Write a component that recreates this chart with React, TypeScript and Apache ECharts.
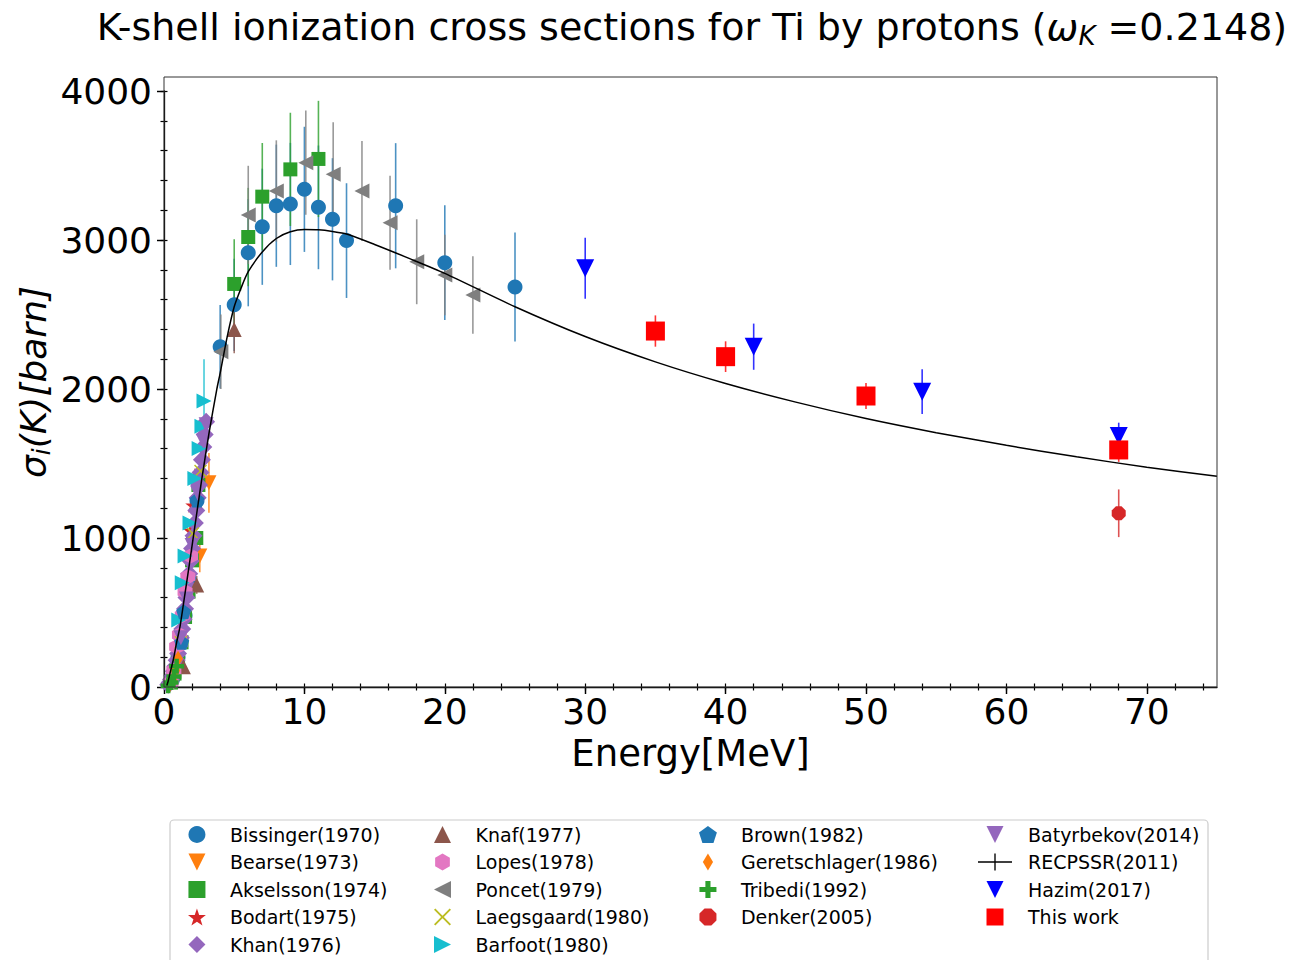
import React, { useEffect, useRef } from "react";
import * as echarts from "echarts";

type Pt = [number, number, number];

// ---------- data (energy MeV, sigma barn, error barn) ----------
const bissinger: Pt[] = [
  [0.6, 50, 0], [1.0, 200, 0], [1.5, 480, 0], [1.8, 720, 0], [2.1, 1000, 0], [2.35, 1250, 0],
  [4.0, 2284, 280], [5.0, 2565, 310], [6.0, 2915, 360], [7.0, 3089, 390], [8.0, 3230, 410],
  [9.0, 3242, 410], [10.0, 3340, 420], [11.0, 3219, 415], [12.0, 3139, 410], [13.0, 2996, 385],
  [16.5, 3230, 420], [20.0, 2848, 385], [25.0, 2685, 366],
];
const bearse: Pt[] = [[2.55, 880, 110], [3.2, 1370, 200]];
const akselsson: Pt[] = [
  [0.5, 30, 0], [0.75, 90, 0], [1.0, 170, 0], [1.25, 300, 0], [1.5, 470, 0], [1.75, 640, 0],
  [2.0, 850, 0], [2.3, 1000, 0], [2.45, 1356, 0],
  [5.0, 2705, 300], [6.0, 3020, 330], [7.0, 3291, 360], [9.0, 3474, 380], [11.0, 3544, 390],
];
const bodart: Pt[] = [[1.9, 1050, 0], [2.05, 1220, 0], [2.2, 1420, 0]];
const khan: Pt[] = [
  [0.3, 15, 0], [0.4, 30, 0], [0.5, 50, 0], [0.6, 75, 0], [0.7, 105, 0], [0.8, 140, 0],
  [0.9, 180, 0], [1.0, 225, 0], [1.1, 275, 0], [1.2, 330, 0], [1.3, 390, 0], [1.4, 455, 0],
  [1.5, 525, 0], [1.6, 600, 0], [1.7, 680, 0], [1.8, 760, 0], [1.9, 845, 0], [2.0, 930, 0],
  [2.1, 1015, 0], [2.2, 1100, 0], [2.3, 1185, 0], [2.4, 1270, 0], [2.5, 1355, 0], [2.6, 1440, 0],
  [2.7, 1525, 0], [2.8, 1610, 0], [2.9, 1695, 0], [3.0, 1780, 0],
];
const knaf: Pt[] = [[1.38, 136, 20], [2.33, 685, 60], [5.0, 2400, 160]];
const lopes: Pt[] = [
  [0.5, 30, 0], [0.7, 110, 0], [0.9, 270, 0], [1.1, 350, 0], [1.3, 480, 0], [1.5, 640, 0],
  [1.7, 740, 0], [1.9, 880, 0],
];
const poncet: Pt[] = [
  [4.05, 2250, 250], [6.0, 3168, 330], [8.0, 3329, 340], [10.1, 3519, 350], [12.05, 3441, 350],
  [14.1, 3329, 335], [16.1, 3116, 315], [18.0, 2854, 285], [20.0, 2765, 270], [22.0, 2631, 260],
];
const laegsgaard: Pt[] = [[1.2, 300, 0], [2.05, 1030, 0], [2.6, 1450, 0]];
const barfoot: Pt[] = [
  [1.05, 450, 0], [1.3, 700, 0], [1.5, 880, 0], [1.85, 1100, 0], [2.2, 1400, 0], [2.5, 1600, 0],
  [2.7, 1750, 0], [2.85, 1920, 280],
];
const brown: Pt[] = [[1.26, 300, 0], [1.4, 505, 0], [2.35, 1255, 0]];
const geretschlager: Pt[] = [[0.4, 15, 0], [0.6, 45, 0], [0.8, 110, 0], [1.0, 190, 0]];
const tribedi: Pt[] = [[0.3, 8, 0], [0.5, 30, 0], [0.7, 70, 0], [0.9, 140, 0]];
const denker: Pt[] = [[68, 1166, 160]];
const batyrbekov: Pt[] = [
  [1.2, 330, 0], [1.6, 590, 0], [2.0, 950, 0], [2.4, 1300, 0], [2.8, 1650, 0], [3.0, 1760, 0],
];
const recpssr: [number, number][] = [
  [0.2, 10], [0.3, 40], [0.43, 94], [0.66, 181], [0.9, 300], [1.14, 405], [1.5, 630],
  [1.85, 852], [2.2, 1080], [2.68, 1389], [3.2, 1700], [3.75, 1993], [4.0, 2107], [4.5, 2350],
  [5.0, 2552], [5.5, 2680], [6.0, 2787], [7.0, 2920], [8.0, 3010], [9.0, 3055], [10.0, 3070],
  [11.0, 3068], [12.0, 3057], [13.0, 3040], [15.0, 2970], [17.5, 2875], [20.0, 2776],
  [25.0, 2552], [30.0, 2352], [35.0, 2182], [40.0, 2037], [45.0, 1912], [50.0, 1802],
  [55.0, 1707], [60.0, 1622], [65.0, 1545], [70.0, 1475], [75.0, 1415],
];
const hazim: Pt[] = [[30, 2810, 205], [42, 2284, 155], [54, 1982, 150], [68, 1684, 90]];
const thisWork: Pt[] = [[35, 2389, 105], [40, 2217, 103], [50, 1953, 88], [68, 1591, 80]];

const xMajorTicks = [0, 10, 20, 30, 40, 50, 60, 70];
const xMinorTicks = [0, 2, 4, 6, 8, 10, 12, 14, 16, 18, 20, 22, 24, 26, 28, 30, 32, 34, 36, 38, 40, 42, 44, 46, 48, 50, 52, 54, 56, 58, 60, 62, 64, 66, 68, 70, 72, 74];
const yMajorTicks = [0, 1000, 2000, 3000, 4000];
const yMinorTicks = [0, 200, 400, 600, 800, 1000, 1200, 1400, 1600, 1800, 2000, 2200, 2400, 2600, 2800, 3000, 3200, 3400, 3600, 3800, 4000];

// ---------- marker shapes ----------
const SQUARE = "path://M0,0H1V1H0Z";
const DIAMOND = "path://M1,0L2,1L1,2L0,1Z";
const THIN_DIAMOND = "path://M0.6,0L1.2,1L0.6,2L0,1Z";
const TRI_DOWN = "path://M0,0L2,0L1,2Z";
const TRI_UP = "path://M1,0L2,2L0,2Z";
const TRI_LEFT = "path://M0,1L2,0L2,2Z";
const TRI_RIGHT = "path://M0,0L2,1L0,2Z";
const STAR = "path://M50,0L61.8,35.1L97.6,34.5L68.8,56.7L79.4,90.5L50,70L20.6,90.5L31.2,56.7L2.4,34.5L38.2,35.1Z";
const HEX = "path://M50,0L93.3,25L93.3,75L50,100L6.7,75L6.7,25Z";
const PENT = "path://M50,0L97.6,34.5L79.4,90.5L20.6,90.5L2.4,34.5Z";
const PLUS = "path://M35,0H65V35H100V65H65V100H35V65H0V35H35Z";
const XMARK = "path://M0,8L8,0L50,42L92,0L100,8L58,50L100,92L92,100L50,58L8,100L0,92L42,50Z";
const OCT = "path://M30,0H70L100,30V70L70,100H30L0,70V30Z";
const LINE_ICON = "path://M0,19H40V21H0Z M19.2,10H20.8V30H19.2Z";

const sets = [
  { name: "Bissinger(1970)", data: bissinger, symbol: "circle", size: 15, color: "#1f77b4" },
  { name: "Bearse(1973)", data: bearse, symbol: TRI_DOWN, size: 15, color: "#ff7f0e" },
  { name: "Akselsson(1974)", data: akselsson, symbol: SQUARE, size: 14, color: "#2ca02c" },
  { name: "Bodart(1975)", data: bodart, symbol: STAR, size: 15, color: "#d62728" },
  { name: "Khan(1976)", data: khan, symbol: DIAMOND, size: 18, color: "#9467bd" },
  { name: "Knaf(1977)", data: knaf, symbol: TRI_UP, size: 15, color: "#8c564b" },
  { name: "Lopes(1978)", data: lopes, symbol: HEX, size: 15, color: "#e377c2" },
  { name: "Poncet(1979)", data: poncet, symbol: TRI_LEFT, size: 15, color: "#7f7f7f" },
  { name: "Laegsgaard(1980)", data: laegsgaard, symbol: XMARK, size: 13, color: "#bcbd22" },
  { name: "Barfoot(1980)", data: barfoot, symbol: TRI_RIGHT, size: 15, color: "#17becf" },
  { name: "Brown(1982)", data: brown, symbol: PENT, size: 15, color: "#1f77b4" },
  { name: "Geretschlager(1986)", data: geretschlager, symbol: THIN_DIAMOND, size: [10, 16], color: "#ff7f0e" },
  { name: "Tribedi(1992)", data: tribedi, symbol: PLUS, size: 15, color: "#2ca02c" },
  { name: "Denker(2005)", data: denker, symbol: OCT, size: 14, color: "#d62728" },
  { name: "Batyrbekov(2014)", data: batyrbekov, symbol: TRI_DOWN, size: 15, color: "#9467bd" },
];
const lateSets = [
  { name: "Hazim(2017)", data: hazim, symbol: TRI_DOWN, size: 18, color: "#0000ff" },
  { name: "This work", data: thisWork, symbol: SQUARE, size: 19, color: "#ff0000" },
];

const FONT = "DejaVu Sans";

function errSeries(s: any) {
  return {
    type: "custom",
    name: s.name + " err",
    data: s.data,
    encode: { x: 0, y: 1 },
    clip: true,
    silent: true,
    renderItem: (_p: any, api: any) => {
      const x = api.value(0);
      const y = api.value(1);
      const e = api.value(2);
      if (!e) return null;
      const a = api.coord([x, y - e]);
      const b = api.coord([x, y + e]);
      return {
        type: "line",
        shape: { x1: a[0], y1: a[1], x2: b[0], y2: b[1] },
        style: { stroke: s.color, lineWidth: 1.6, opacity: 0.8 },
      };
    },
  };
}

function scatterSeries(s: any) {
  return {
    type: "scatter",
    name: s.name,
    data: s.data,
    encode: { x: 0, y: 1 },
    symbol: s.symbol,
    symbolSize: s.size,
    itemStyle: { color: s.color, opacity: 1 },
    silent: true,
  };
}

function tickAxis(values: number[], inside: boolean, len: number, min: number, max: number) {
  return {
    type: "value",
    min,
    max,
    gridIndex: 0,
    axisLine: { show: false },
    axisLabel: { show: false },
    splitLine: { show: false },
    axisTick: { show: true, inside, length: len, customValues: values, lineStyle: { color: "#000", width: 1.2 } },
  };
}

export default function App() {
  const ref = useRef<HTMLDivElement>(null);
  useEffect(() => {
    const chart = echarts.init(ref.current!, undefined, { renderer: "svg" });
    const series: any[] = [];
    sets.forEach((s) => {
      series.push(errSeries(s));
      series.push(scatterSeries(s));
    });
    series.push({
      type: "line",
      name: "RECPSSR(2011)",
      data: recpssr,
      smooth: 0.25,
      symbol: "none",
      lineStyle: { color: "#000", width: 1.5 },
      itemStyle: { color: "#000" },
      silent: true,
    });
    lateSets.forEach((s) => {
      series.push(errSeries(s));
      series.push(scatterSeries(s));
    });

    const legendBase = {
      type: "plain",
      orient: "vertical",
      top: 825,
      height: 180,
      padding: 0,
      itemWidth: 56,
      itemHeight: 17,
      itemGap: 8.5,
      selectedMode: false,
      textStyle: { fontSize: 19, fontFamily: FONT, color: "#000", lineHeight: 18 },
    };
    const allNames = sets.map((s) => s.name);
    const col4 = [
      "Batyrbekov(2014)",
      { name: "RECPSSR(2011)", icon: LINE_ICON },
      "Hazim(2017)",
      "This work",
    ];

    chart.setOption({
      animation: false,
      backgroundColor: "#fff",
      grid: { left: 164, right: 74, top: 91, bottom: 273, containLabel: false },
      xAxis: [
        {
          type: "value",
          min: 0,
          max: 75,
          interval: 10,
          axisLine: { show: true, lineStyle: { color: "#000", width: 1.3 } },
          axisTick: { show: true, inside: false, length: 7, customValues: xMajorTicks, lineStyle: { color: "#000", width: 1.3 } },
          axisLabel: {
            fontSize: 36, fontFamily: FONT, color: "#000", margin: 6, customValues: xMajorTicks,
            formatter: (v: number) => String(v),
          },
          splitLine: { show: false },
          name: "Energy[MeV]",
          nameLocation: "middle",
          nameGap: 48,
          nameTextStyle: { fontSize: 37, fontFamily: FONT, color: "#000" },
        },
        tickAxis(xMajorTicks, true, 7, 0, 75),
        tickAxis(xMinorTicks, false, 3.5, 0, 75),
        tickAxis(xMinorTicks, true, 3.5, 0, 75),
      ],
      yAxis: [
        {
          type: "value",
          min: 0,
          max: 4000,
          interval: 1000,
          axisLine: { show: true, lineStyle: { color: "#000", width: 1.3 } },
          axisTick: { show: true, inside: false, length: 7, customValues: yMajorTicks, lineStyle: { color: "#000", width: 1.3 } },
          axisLabel: {
            fontSize: 36, fontFamily: FONT, color: "#000", margin: 12, customValues: yMajorTicks,
            formatter: (v: number) => String(v),
          },
          splitLine: { show: false },
        },
        tickAxis(yMajorTicks, true, 7, 0, 4000),
        tickAxis(yMinorTicks, false, 3.5, 0, 4000),
        tickAxis(yMinorTicks, true, 3.5, 0, 4000),
      ],
      legend: [
        { ...legendBase, left: 188, data: allNames.slice(0, 5) },
        { ...legendBase, left: 434, data: allNames.slice(5, 10) },
        { ...legendBase, left: 699, data: allNames.slice(10, 14) },
        { ...legendBase, left: 978, data: col4 },
      ],
      graphic: [
        {
          type: "rect",
          silent: true,
          z: 100,
          shape: { x: 164, y: 77, width: 1053, height: 610 },
          style: { fill: "none", stroke: "#333", lineWidth: 1 },
        },
        {
          type: "rect",
          silent: true,
          z: 1,
          shape: { x: 170, y: 820, width: 1038, height: 200, r: 4 },
          style: { fill: "#fff", stroke: "#cccccc", lineWidth: 1.2 },
        },
        {
          type: "text",
          silent: true,
          x: 692,
          y: 27,
          style: {
            text: "{a|K-shell ionization cross sections for Ti by protons (}{w|ω}{s|K}{a| =0.2148)}",
            textAlign: "center",
            textVerticalAlign: "middle",
            align: "center",
            verticalAlign: "middle",
            rich: {
              a: { fontSize: 38, fontFamily: FONT, lineHeight: 44, fill: "#000" },
              w: { fontSize: 38, fontFamily: FONT, fontStyle: "italic", lineHeight: 44, fill: "#000" },
              s: { fontSize: 26, fontFamily: FONT, fontStyle: "italic", lineHeight: 22, verticalAlign: "bottom", fill: "#000" },
            },
          },
        },
        {
          type: "text",
          silent: true,
          x: 33,
          y: 382,
          rotation: Math.PI / 2,
          style: {
            text: "{a|σ}{s|i}{a|(K)[barn]}",
            textAlign: "center",
            textVerticalAlign: "middle",
            align: "center",
            verticalAlign: "middle",
            rich: {
              a: { fontSize: 36, fontFamily: FONT, fontStyle: "italic", lineHeight: 42, fill: "#000" },
              s: { fontSize: 25, fontFamily: FONT, fontStyle: "italic", lineHeight: 20, verticalAlign: "bottom", fill: "#000" },
            },
          },
        },
      ],
      series,
    });
    return () => chart.dispose();
  }, []);
  return (
    <div
      ref={ref}
      style={{ position: "fixed", left: 0, top: 0, width: 1291, height: 960, background: "#fff" }}
    />
  );
}
